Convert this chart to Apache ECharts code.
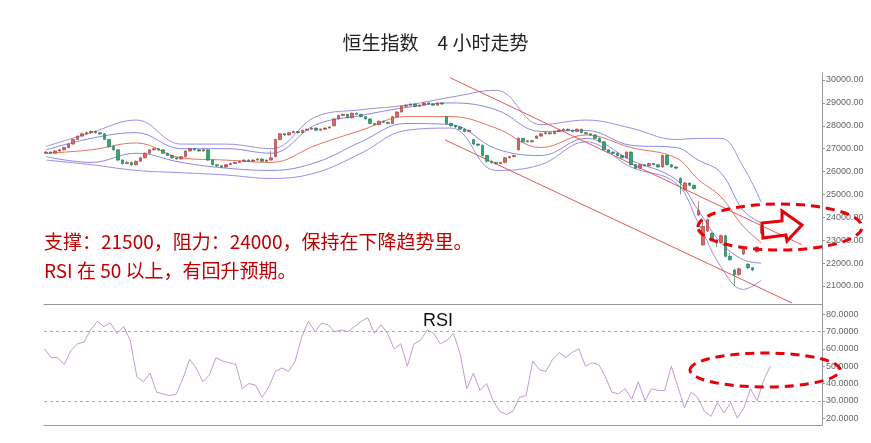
<!DOCTYPE html>
<html><head><meta charset="utf-8">
<script src="https://cdn.jsdelivr.net/npm/echarts@6/dist/echarts.min.js"></script>
<style>html,body{margin:0;background:#fff}#c{width:871px;height:443px}</style>
</head><body><div id="c"></div>
<script>
// candles: [open, close, low, high]
const candles = [
  [26800,26850,26780,26900],[26850,26800,26760,26880],[26800,26900,26780,26930],[26900,26950,26870,27000],
  [26950,27050,26920,27080],[27050,27200,27020,27230],[27200,27400,27180,27430],[27400,27550,27380,27580],
  [27550,27650,27520,27700],[27650,27700,27600,27750],[27700,27750,27650,27800],[27750,27700,27650,27780],
  [27700,27650,27600,27720],[27650,27400,27380,27680],[27400,27100,27050,27420],[27100,26950,26900,27150],
  [26950,26500,26450,26980],[26500,26350,26300,26550],[26350,26400,26320,26450],[26400,26300,26250,26430],
  [26300,26450,26280,26480],[26450,26600,26430,26630],[26600,26800,26580,26830],[26800,26950,26780,26980],
  [26950,27000,26920,27050],[27000,26950,26900,27030],[26950,26800,26770,26980],[26800,26700,26680,26820],
  [26700,26600,26560,26720],[26600,26550,26520,26630],[26550,26650,26530,26680],[26650,26900,26630,26930],
  [26900,27000,26880,27030],[27000,26950,26920,27020],[26950,26900,26870,26980],[26900,26950,26880,26980],
  [26950,26500,26470,26970],[26500,26300,26260,26520],[26300,26250,26200,26330],[26250,26200,26150,26280],
  [26200,26300,26170,26330],[26300,26350,26280,26380],[26350,26400,26330,26430],[26400,26450,26380,26480],
  [26450,26500,26430,26530],[26500,26450,26420,26530],[26450,26500,26430,26530],[26500,26550,26480,26580],
  [26550,26450,26420,26570],[26450,26500,26430,26530],[26500,26600,26480,26900],[26650,27400,26630,27430],
  [27400,27650,27380,27680],[27650,27600,27560,27690],[27600,27700,27580,27730],[27700,27750,27680,27780],
  [27750,27700,27670,27780],[27700,27800,27680,27830],[27800,27850,27780,27880],[27850,27900,27830,27930],
  [27900,27800,27770,27920],[27800,27850,27780,27880],[27850,27900,27830,27930],[27900,27950,27880,27980],
  [28000,28300,27980,28330],[28300,28450,28280,28480],[28450,28500,28420,28530],[28500,28350,28320,28520],
  [28350,28550,28330,28580],[28550,28500,28470,28580],[28500,28400,28370,28520],[28400,28300,28270,28420],
  [28300,28100,28070,28320],[28100,28050,28020,28130],[28050,28200,28030,28230],[28200,28150,28120,28230],
  [28150,28100,28070,28180],[28100,28400,28080,28430],[28400,28600,28380,28630],[28600,28850,28580,28880],
  [28850,28900,28820,28930],[28900,28950,28870,28980],[28950,28850,28820,28970],[28850,28900,28830,28930],
  [28900,29000,28880,29030],[29000,28950,28920,29030],[28950,28900,28870,28980],[28900,29000,28880,29030],
  [29000,28950,28920,29030],[28400,28100,28050,28430],[28100,28000,27950,28130],[28000,27950,27900,28030],
  [27950,27850,27820,27980],[27850,27750,27720,27880],[27750,27800,27720,27830],[27400,27200,27150,27430],
  [27200,27150,27100,27230],[27150,26700,26650,27180],[26700,26450,26400,26730],[26450,26400,26350,26480],
  [26400,26350,26300,26430],[26350,26400,26330,26430],[26400,26600,26380,26630],[26600,26650,26580,26680],
  [26650,26700,26620,26730],[26950,27450,26930,27500],[27450,27300,27270,27480],[27300,27350,27280,27380],
  [27350,27300,27270,27380],[27450,27550,27430,27580],[27550,27650,27530,27680],[27650,27700,27630,27730],
  [27700,27650,27620,27730],[27650,27750,27630,27780],[27750,27800,27730,27830],[27800,27850,27780,27880],
  [27850,27800,27770,27880],[27800,27750,27720,27830],[27750,27850,27730,27880],[27850,27700,27670,27880],
  [27700,27650,27620,27730],[27650,27600,27570,27680],[27600,27450,27420,27630],[27450,27300,27270,27480],
  [27300,26950,26920,27330],[26950,26850,26820,26980],[26850,26800,26770,26880],[26800,26700,26670,26830],
  [26700,26600,26570,26730],[26600,26850,26580,26880],[26850,26300,26270,26880],[26300,26150,26100,26330],
  [26150,26300,26120,26330],[26300,26250,26220,26330],[26250,26350,26230,26380],[26350,26300,26270,26380],
  [26300,26200,26170,26330],[26200,26700,26180,26750],[26700,26300,26270,26730],[26300,26200,26170,26330],
  [26200,26150,26100,26230],[25700,25500,25000,25750],[25200,25500,25150,25550],[25500,25400,25370,25530],
  [25400,25250,25220,25430],[24100,24300,24050,24700],[22800,23600,22750,23900],[23400,23900,23350,23950],
  [23300,23000,22950,23350],[23000,22900,22700,23050],[22900,23200,22850,23250],[23200,22300,22250,23250],
  [22300,22150,22100,22450],[21700,21500,21000,21750],[21500,21750,21450,21800],[22400,22600,22350,22650],
  [21950,21800,21750,22000],[21800,21700,21650,21830],[22500,22700,22450,22750],[23300,23600,23250,23650]
];
// bollinger bands sampled every few candles
const bandIdx = [0,10,20,30,40,50,60,70,80,90,100,110,120,130,140,145,150,155,159];
const upper2 = [27100,27700,28250,27200,27200,27000,28400,28700,28900,29250,29550,28050,28250,27900,27400,27450,27450,26200,24650];
const upper1 = [26950,27450,27700,27000,27000,26800,28050,28450,28800,29000,28700,27750,27800,27150,27050,26500,25950,24300,23750];
const middle = [26800,26950,27250,26600,26500,26400,27150,27800,28400,28400,27900,27050,27600,27050,26600,25650,24900,23600,22900];
const lower1 = [26650,26400,26800,26400,26150,26050,26400,27300,28100,28050,27000,26700,27450,26500,25650,24300,22900,22150,22000];
const lower2 = [26500,26300,26050,25950,25850,25700,25950,26800,27800,27900,26050,26300,27300,26200,25500,23750,21850,20850,21250];
// trend channel lines [index, price]
const trendUpper = [[89.8,30100],[168,22800]];
const trendLower = [[88.7,27380],[165.8,20260]];
const priceTicks = [21000,22000,23000,24000,25000,26000,27000,28000,29000,30000];
// RSI values, evenly spread from candle -0.4 to 161
const rsi = [60,55,55,51,59,63,64,71,76,73,75,69,73,65,44,41,46,35,34,33,34,43,54,49,41,45,55,53,52,51,
  37,40,39,32,38,47,49,47,53,67,76,70,75,74,70,71,70,73,76,78,69,74,69,60,63,50,63,65,71,69,63,65,69,57,
  37,46,36,40,30,24,22,24,32,33,53,48,47,54,58,55,58,60,50,52,51,44,35,34,37,31,41,30,37,36,36,50,38,26,
  35,32,24,21,29,23,29,20,26,37,30,42,50];
const rsiTicks = [20,30,40,50,60,70,80];
const rsiLevels = [30,70];

const cats = Array.from({length: 173}, (_, i) => String(i));
const band = (vals) => vals.map((v, k) => [bandIdx[k], v]);
const rsiData = rsi.map((v, k) => [-0.4 + k * 161.4 / (rsi.length - 1), v]);

const chart = echarts.init(document.getElementById('c'));
const lbl = { color: '#666', fontSize: 9, fontFamily: 'Arial', margin: 4 };
const bandLine = (name, data, color) => ({
  name, type: 'line', xAxisIndex: 1, yAxisIndex: 0, data: band(data), smooth: 0.4,
  symbol: 'none', lineStyle: { color, width: 1 }, z: 1
});
const trend = (data) => ({
  type: 'line', xAxisIndex: 1, yAxisIndex: 0, data, symbol: 'none',
  lineStyle: { color: '#e05a5a', width: 1 }, z: 1
});

chart.setOption({
  animation: false,
  backgroundColor: '#fff',
  title: [
    { text: '恒生指数　4 小时走势', left: 'center', top: 28,
      textStyle: { fontSize: 19, fontWeight: 'normal', color: '#222', fontFamily: 'Noto Sans CJK SC' } },
    { text: 'RSI', left: 418, top: 307,
      textStyle: { fontSize: 18, fontWeight: 'normal', color: '#111', fontFamily: 'Arial' } }
  ],
  grid: [
    { left: 44, right: 49, top: 73, height: 231 },
    { left: 44, right: 49, top: 304, height: 121 }
  ],
  xAxis: [
    { type: 'category', gridIndex: 0, data: cats, axisLine: { show: true, onZero: false, lineStyle: { color: '#999' } },
      axisTick: { show: false }, axisLabel: { show: false }, splitLine: { show: false } },
    { type: 'value', gridIndex: 0, min: -0.5, max: 172.5, show: false },
    { type: 'value', gridIndex: 1, min: -0.5, max: 172.5, axisLine: { show: true, onZero: false, lineStyle: { color: '#999' } },
      axisTick: { show: false }, axisLabel: { show: false }, splitLine: { show: false } }
  ],
  yAxis: [
    { type: 'value', gridIndex: 0, position: 'right', min: 20214, max: 30306, scale: true,
      axisLine: { show: true, onZero: false, lineStyle: { color: '#999' } },
      axisTick: { show: true, customValues: priceTicks, length: 3, lineStyle: { color: '#999' } },
      axisLabel: { ...lbl, customValues: priceTicks, formatter: v => v.toFixed(2) },
      splitLine: { show: false } },
    { type: 'value', gridIndex: 1, position: 'right', min: 16, max: 86,
      axisLine: { show: true, onZero: false, lineStyle: { color: '#999' } },
      axisTick: { show: true, customValues: rsiTicks, length: 3, lineStyle: { color: '#999' } },
      axisLabel: { ...lbl, customValues: rsiTicks, formatter: v => v.toFixed(4) },
      splitLine: { show: false } }
  ],
  series: [
    bandLine('上轨2', upper2, '#9b8fe6'),
    bandLine('上轨1', upper1, '#8a8ae0'),
    bandLine('中轨', middle, '#e8735f'),
    bandLine('下轨1', lower1, '#8a8ae0'),
    bandLine('下轨2', lower2, '#9b8fe6'),
    trend(trendUpper),
    trend(trendLower),
    { type: 'candlestick', xAxisIndex: 0, yAxisIndex: 0, data: candles, barWidth: 3, z: 3,
      itemStyle: { color: '#e06666', color0: '#2fa872', borderColor: '#9a3030', borderColor0: '#1d6b48', borderWidth: 0.6 } },
    { type: 'line', xAxisIndex: 2, yAxisIndex: 1, data: rsiData, symbol: 'none',
      lineStyle: { color: '#c39bd3', width: 1 },
      markLine: { symbol: 'none', silent: true, label: { show: false },
        lineStyle: { color: '#aaa', type: [3, 3], width: 1 },
        data: rsiLevels.map(v => ({ yAxis: v })) } }
  ],
  graphic: [
    { type: 'text', left: 44, top: 232, style: { text: '支撑：21500，阻力：24000，保持在下降趋势里。',
      fill: '#c00000', fontSize: 19, fontFamily: 'Noto Sans CJK SC' } },
    { type: 'text', left: 44, top: 261, style: { text: 'RSI 在 50 以上，有回升预期。',
      fill: '#c00000', fontSize: 19, fontFamily: 'Noto Sans CJK SC' } },
    { type: 'ellipse', shape: { cx: 780, cy: 227, rx: 82, ry: 23 },
      style: { fill: 'none', stroke: '#e8000b', lineWidth: 3, lineDash: [9, 6] }, z: 10 },
    { type: 'polygon', shape: { points: [[762,223],[782,221],[782,211],[802,225],[787,241],[786,235],[763,238]] },
      style: { fill: 'none', stroke: '#e8000b', lineWidth: 3 }, z: 10 },
    { type: 'ellipse', shape: { cx: 765, cy: 370, rx: 75, ry: 17 },
      style: { fill: 'none', stroke: '#e8000b', lineWidth: 3, lineDash: [9, 6] }, z: 10 }
  ]
});
</script></body></html>
